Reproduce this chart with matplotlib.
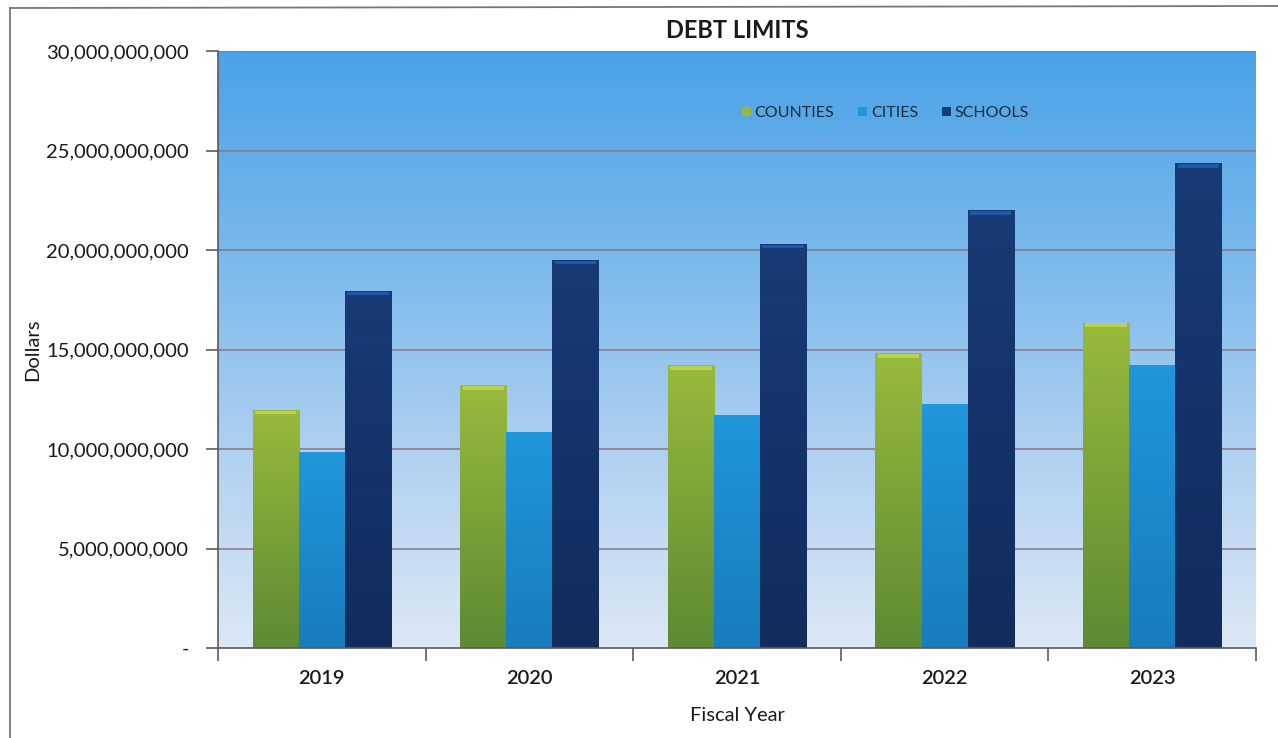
"""DEBT LIMITS: counties / cities / schools by fiscal year (grouped bars)."""
import numpy as np
import matplotlib
matplotlib.use("Agg")
import matplotlib.pyplot as plt
from matplotlib.lines import Line2D
from matplotlib.ticker import FuncFormatter, FixedLocator
from matplotlib.colors import LinearSegmentedColormap

years = ["2019", "2020", "2021", "2022", "2023"]
counties = [11.97e9, 13.2e9, 14.2e9, 14.8e9, 16.35e9]
cities = [9.87e9, 10.85e9, 11.72e9, 12.25e9, 14.2e9]
schools = [17.95e9, 19.5e9, 20.3e9, 22.0e9, 24.35e9]
series_names = ["COUNTIES", "CITIES", "SCHOOLS"]

INK = "#1a1a1a"
GRID = "#8c7482"
SPINE = "#5a5a5a"
# (top colour, bottom colour, cap colour) for each series
SHADES = [("#98ba3c", "#5d8a33", "#b9d050"),
          ("#2196db", "#177cbd", "#2196db"),
          ("#183a76", "#122c5c", "#1f58a6")]

plt.rcParams.update({"font.family": ["Lato", "DejaVu Sans"]})
fig = plt.figure(figsize=(12.78, 7.38), dpi=100)
ax = fig.add_axes([218/1278, 1 - 648/738, 1038/1278, 597/738])

ymax = 30e9
ncat = len(years)

# sky gradient behind the plot
sky = LinearSegmentedColormap.from_list("sky", ["#dce8f5", "#afd0f0", "#78b8ec", "#4aa2e6"])
grad = np.linspace(0, 1, 256).reshape(-1, 1)
ax.imshow(grad, cmap=sky, origin="lower", aspect="auto",
          extent=(0, ncat, 0, ymax), zorder=0)

for v in np.arange(5e9, ymax + 1, 5e9):
    ax.axhline(v, color=GRID, lw=1.1, zorder=1)

bw = 0.222
x = np.arange(ncat) + 0.5
for i, vals in enumerate([counties, cities, schools]):
    top, bot, cap = SHADES[i]
    cmap = LinearSegmentedColormap.from_list(f"s{i}", [bot, top])
    bars = ax.bar(x + (i - 1) * bw, vals, width=bw, color=top, edgecolor="none",
                  zorder=2, label=series_names[i])
    for b in bars:
        bx, bh = b.get_x(), b.get_height()
        im = ax.imshow(grad, cmap=cmap, origin="lower", aspect="auto",
                       extent=(bx, bx + bw, 0, bh), zorder=2.1)
        im.set_clip_path(b)
        # bevel cap at the top of each bar
        ax.bar(bx + bw/2, 0.18e9, bottom=bh - 0.22e9, width=bw * 0.9,
               color=cap, edgecolor="none", zorder=2.2)
ax.set_xlim(0, ncat)
ax.set_ylim(0, ymax)

# axes styling
for s in ("top", "right"):
    ax.spines[s].set_visible(False)
for s in ("left", "bottom"):
    ax.spines[s].set_color(SPINE)
    ax.spines[s].set_linewidth(1.2)

ax.yaxis.set_major_locator(FixedLocator(np.arange(0, ymax + 1, 5e9)))
ax.yaxis.set_major_formatter(FuncFormatter(lambda v, p: "-" if v == 0 else f"{v:,.0f}"))
ax.tick_params(axis="y", length=9, width=1.2, color=SPINE, labelsize=14.5,
               labelcolor=INK, pad=12)
ax.xaxis.set_major_locator(FixedLocator(np.arange(ncat + 1)))
ax.xaxis.set_major_formatter(FuncFormatter(lambda v, p: ""))
ax.set_xticks(x, years, minor=True)
ax.tick_params(axis="x", which="major", length=9, width=1.2, color=SPINE)
ax.tick_params(axis="x", which="minor", length=0, labelsize=14.5, labelcolor=INK, pad=16)
for lab in ax.get_xticklabels(minor=True):
    lab.set_fontweight("semibold")

ax.set_xlabel("Fiscal Year", fontsize=14.5, color=INK, labelpad=14)
ax.set_ylabel("Dollars", fontsize=14.5, color=INK)
ax.yaxis.set_label_coords(-0.17, 0.5)
ax.set_title("DEBT LIMITS", fontsize=17, fontweight="bold", color=INK, pad=9)

leg = ax.legend(loc="upper center", bbox_to_anchor=(0.643, 0.932), ncol=3, frameon=False,
                fontsize=11.5, handlelength=0.55, handleheight=0.55, handletextpad=0.25,
                columnspacing=1.5)
for t in leg.get_texts():
    t.set_color("#1c2a3a")

# page frame
fig.add_artist(Line2D([10/1278, 10/1278], [0, 1 - 8/738], color="#777", lw=1.3))
fig.add_artist(Line2D([10/1278, 1], [1 - 8/738, 1 - 6/738], color="#777", lw=1.3))

fig.savefig("out.png", dpi=100)
